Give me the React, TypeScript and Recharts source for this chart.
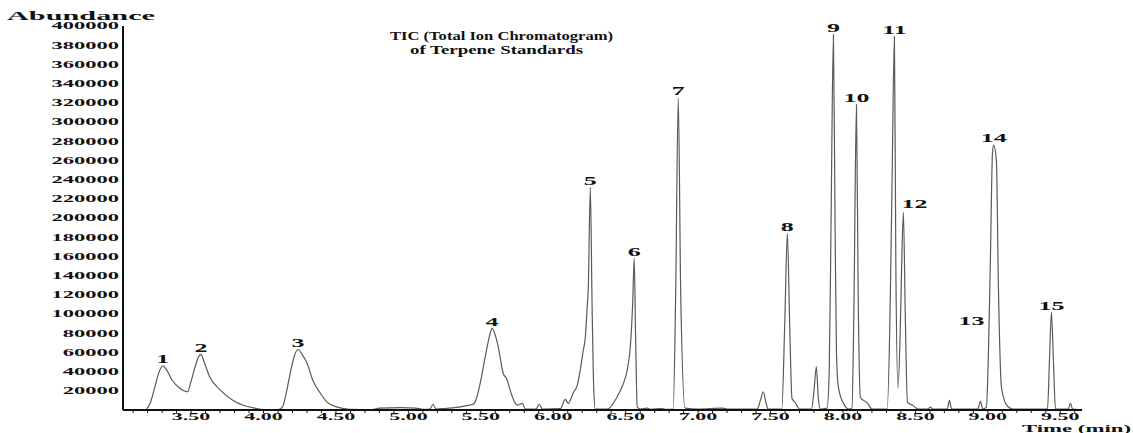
import { LineChart, Line, XAxis, YAxis, ReferenceDot } from "recharts";

// TIC trace: [time (min), abundance]
const TRACE: [number, number][] = [
  [3.19, 0], [3.22, 8000], [3.25, 24000], [3.28, 40000], [3.305, 46000], [3.33, 42000],
  [3.37, 31000], [3.42, 23000], [3.46, 19500], [3.475, 19000], [3.5, 30000], [3.528, 45000],
  [3.55, 55000], [3.568, 58000], [3.59, 50000], [3.63, 34000], [3.7, 21000], [3.79, 10000],
  [3.86, 5000], [3.94, 2000], [4.0, 500], [4.1, 300], [4.13, 3000], [4.16, 20000],
  [4.184, 38000], [4.21, 55000], [4.238, 63000], [4.27, 57000], [4.3, 49000], [4.34, 31000],
  [4.39, 18000], [4.44, 8000], [4.51, 3000], [4.6, 800], [4.75, 500], [4.8, 2000],
  [4.95, 2500], [5.05, 2000], [5.1, 800], [5.15, 1000], [5.17, 6000], [5.19, 1000],
  [5.25, 1500], [5.35, 3000], [5.42, 5000], [5.447, 6000], [5.47, 12000], [5.496, 28000],
  [5.52, 47000], [5.544, 66000], [5.565, 80000], [5.578, 85000], [5.6, 78000], [5.62, 66000],
  [5.655, 38000], [5.68, 32000], [5.7, 22000], [5.717, 14000], [5.751, 5000], [5.786, 7000],
  [5.807, 1000], [5.88, 1000], [5.903, 6000], [5.925, 1000], [6.05, 1500], [6.083, 11000],
  [6.104, 7000], [6.138, 18000], [6.166, 26000], [6.187, 42000], [6.207, 62000], [6.221, 75000],
  [6.233, 104000], [6.242, 128000], [6.256, 232000], [6.268, 110000], [6.28, 20000], [6.29, 1000],
  [6.373, 1000], [6.442, 14000], [6.48, 26000], [6.511, 42000], [6.532, 66000], [6.548, 110000],
  [6.559, 158000], [6.568, 80000], [6.58, 3000], [6.6, 1000], [6.65, 2000], [6.67, 800],
  [6.75, 1500], [6.77, 800], [6.828, 1000], [6.845, 120000], [6.863, 325000], [6.88, 120000],
  [6.91, 2000], [7.0, 1000], [7.17, 2000], [7.2, 1000], [7.408, 1000], [7.43, 10000],
  [7.45, 19000], [7.468, 8000], [7.484, 1000], [7.578, 1000], [7.598, 90000], [7.616, 184000],
  [7.632, 90000], [7.648, 12000], [7.67, 8000], [7.7, 1000], [7.782, 1000], [7.8, 20000],
  [7.816, 45000], [7.83, 12000], [7.845, 1000], [7.89, 2000], [7.905, 40000], [7.918, 200000],
  [7.934, 391000], [7.945, 200000], [7.955, 60000], [7.968, 24000], [8.003, 7000], [8.04, 1000],
  [8.062, 2000], [8.075, 100000], [8.093, 318000], [8.105, 120000], [8.12, 13000], [8.17, 7000],
  [8.2, 1000], [8.305, 1000], [8.325, 100000], [8.34, 250000], [8.355, 389000], [8.365, 150000],
  [8.38, 23000], [8.395, 80000], [8.405, 150000], [8.417, 206000], [8.43, 100000], [8.445, 8000],
  [8.48, 5000], [8.52, 1000], [8.585, 1000], [8.604, 3000], [8.62, 1000], [8.72, 1000],
  [8.735, 10000], [8.75, 1000], [8.93, 1000], [8.949, 9000], [8.965, 1000], [8.99, 3000],
  [9.004, 59000], [9.018, 160000], [9.032, 268000], [9.04, 276000], [9.059, 260000], [9.073, 128000],
  [9.094, 24000], [9.13, 5000], [9.17, 1000], [9.412, 1000], [9.425, 50000], [9.439, 102000],
  [9.453, 50000], [9.467, 1000], [9.555, 1000], [9.57, 7000], [9.585, 1000], [9.63, 500],
];

const PEAK_NAMES = ["1", "2", "3", "4", "5", "6", "7", "8", "9", "10", "11", "12", "13", "14", "15"];
const PEAK_TIMES = [3.305, 3.568, 4.238, 5.578, 6.256, 6.559, 6.863, 7.616, 7.934, 8.093, 8.355, 8.417, 8.949, 9.04, 9.439];
const PEAK_HEIGHTS = [46000, 58000, 63000, 85000, 232000, 158000, 325000, 184000, 391000, 318000, 389000, 206000, 9000, 276000, 102000];

const Y_TICKS = [
  20000, 40000, 60000, 80000, 100000, 120000, 140000, 160000, 180000, 200000,
  220000, 240000, 260000, 280000, 300000, 320000, 340000, 360000, 380000, 400000,
];
const X_MINOR_TICKS = [
  3.1, 3.2, 3.3, 3.4, 3.5, 3.6, 3.7, 3.8, 3.9, 4.0, 4.1, 4.2, 4.3, 4.4, 4.5, 4.6, 4.7, 4.8, 4.9,
  5.0, 5.1, 5.2, 5.3, 5.4, 5.5, 5.6, 5.7, 5.8, 5.9, 6.0, 6.1, 6.2, 6.3, 6.4, 6.5, 6.6, 6.7, 6.8,
  6.9, 7.0, 7.1, 7.2, 7.3, 7.4, 7.5, 7.6, 7.7, 7.8, 7.9, 8.0, 8.1, 8.2, 8.3, 8.4, 8.5, 8.6, 8.7,
  8.8, 8.9, 9.0, 9.1, 9.2, 9.3, 9.4, 9.5, 9.6,
];
const X_MAJOR_TICKS = [3.5, 4.0, 4.5, 5.0, 5.5, 6.0, 6.5, 7.0, 7.5, 8.0, 8.5, 9.0, 9.5];
const X_TICK_LABELS = ["3.50", "4.00", "4.50", "5.00", "5.50", "6.00", "6.50", "7.00", "7.50", "8.00", "8.50", "9.00", "9.50"];

const data = TRACE.map(([t, v]) => ({ t, v }));

const FONT = "'Liberation Serif', 'Times New Roman', serif";
const INK = "#111";

// the scanned figure is stretched sideways, so glyphs get scaled in x
function YTick({ x, y, payload }: any) {
  return (
    <text
      transform={`translate(${x},${y}) scale(2.25,1)`}
      textAnchor="end"
      dominantBaseline="central"
      fontFamily={FONT}
      fontWeight="bold"
      fontSize={10}
      fill={INK}
    >
      {payload.value}
    </text>
  );
}

function XTick({ x, y, payload }: any) {
  const i = X_MAJOR_TICKS.findIndex((m) => Math.abs(m - payload.value) < 1e-6);
  if (i < 0) return null;
  return (
    <text
      transform={`translate(${x},${y + 2}) scale(2.2,1)`}
      textAnchor="middle"
      dominantBaseline="central"
      fontFamily={FONT}
      fontWeight="bold"
      fontSize={10}
      fill={INK}
    >
      {X_TICK_LABELS[i]}
    </text>
  );
}

const LABEL_SHIFT: Record<string, [number, number]> = {
  "12": [11, -9],
  "13": [-9, -81],
};

function PeakText({ viewBox, text }: any) {
  const [dx, dy] = LABEL_SHIFT[text] || [0, -7];
  const cx = viewBox.x + (viewBox.width || 0) / 2 + dx;
  const cy = viewBox.y + (viewBox.height || 0) / 2 + dy;
  return (
    <text
      transform={`translate(${cx},${cy}) scale(2,1)`}
      textAnchor="middle"
      dominantBaseline="central"
      fontFamily={FONT}
      fontWeight="bold"
      fontSize={13}
      fill={INK}
    >
      {text}
    </text>
  );
}

export default function App() {
  return (
    <div style={{ position: "absolute", left: 0, top: 0, width: 1133, height: 433, background: "#fff" }}>
      <LineChart width={1133} height={433} data={data} margin={{ top: 26, right: 51, bottom: 0, left: 0 }}>
        <XAxis
          dataKey="t"
          type="number"
          domain={[3.03, 9.65]}
          ticks={X_MINOR_TICKS}
          interval={0}
          height={23}
          tickSize={3}
          tickMargin={2}
          axisLine={{ stroke: INK, strokeWidth: 2 }}
          tickLine={{ stroke: INK, strokeWidth: 1 }}
          tick={<XTick />}
          allowDataOverflow
        />
        <YAxis
          type="number"
          domain={[0, 400000]}
          ticks={Y_TICKS}
          interval={0}
          width={123}
          tickSize={0}
          tickMargin={4}
          axisLine={{ stroke: INK, strokeWidth: 2 }}
          tickLine={false}
          tick={<YTick />}
          allowDataOverflow
        />
        <Line
          type="monotone"
          dataKey="v"
          stroke="#5a5a5a"
          strokeWidth={1.2}
          dot={false}
          isAnimationActive={false}
        />
        {PEAK_NAMES.map((name, i) => (
          <ReferenceDot
            key={name}
            x={PEAK_TIMES[i]}
            y={PEAK_HEIGHTS[i]}
            r={0}
            fill="none"
            stroke="none"
            ifOverflow="visible"
            label={<PeakText text={name} />}
          />
        ))}
      </LineChart>
      <svg
        width={1133}
        height={433}
        style={{ position: "absolute", left: 0, top: 0, pointerEvents: "none" }}
      >
        <g fontFamily={FONT} fontWeight="bold" fill={INK}>
          <text x={7} y={20} fontSize={13} textLength={148} lengthAdjust="spacingAndGlyphs">
            Abundance
          </text>
          <text x={390} y={40} fontSize={13} textLength={223} lengthAdjust="spacingAndGlyphs">
            TIC (Total Ion Chromatogram)
          </text>
          <text x={410} y={54} fontSize={13} textLength={173} lengthAdjust="spacingAndGlyphs">
            of Terpene Standards
          </text>
          <text x={1022} y={432} fontSize={11} textLength={109} lengthAdjust="spacingAndGlyphs">
            Time (min)
          </text>
        </g>
      </svg>
    </div>
  );
}
